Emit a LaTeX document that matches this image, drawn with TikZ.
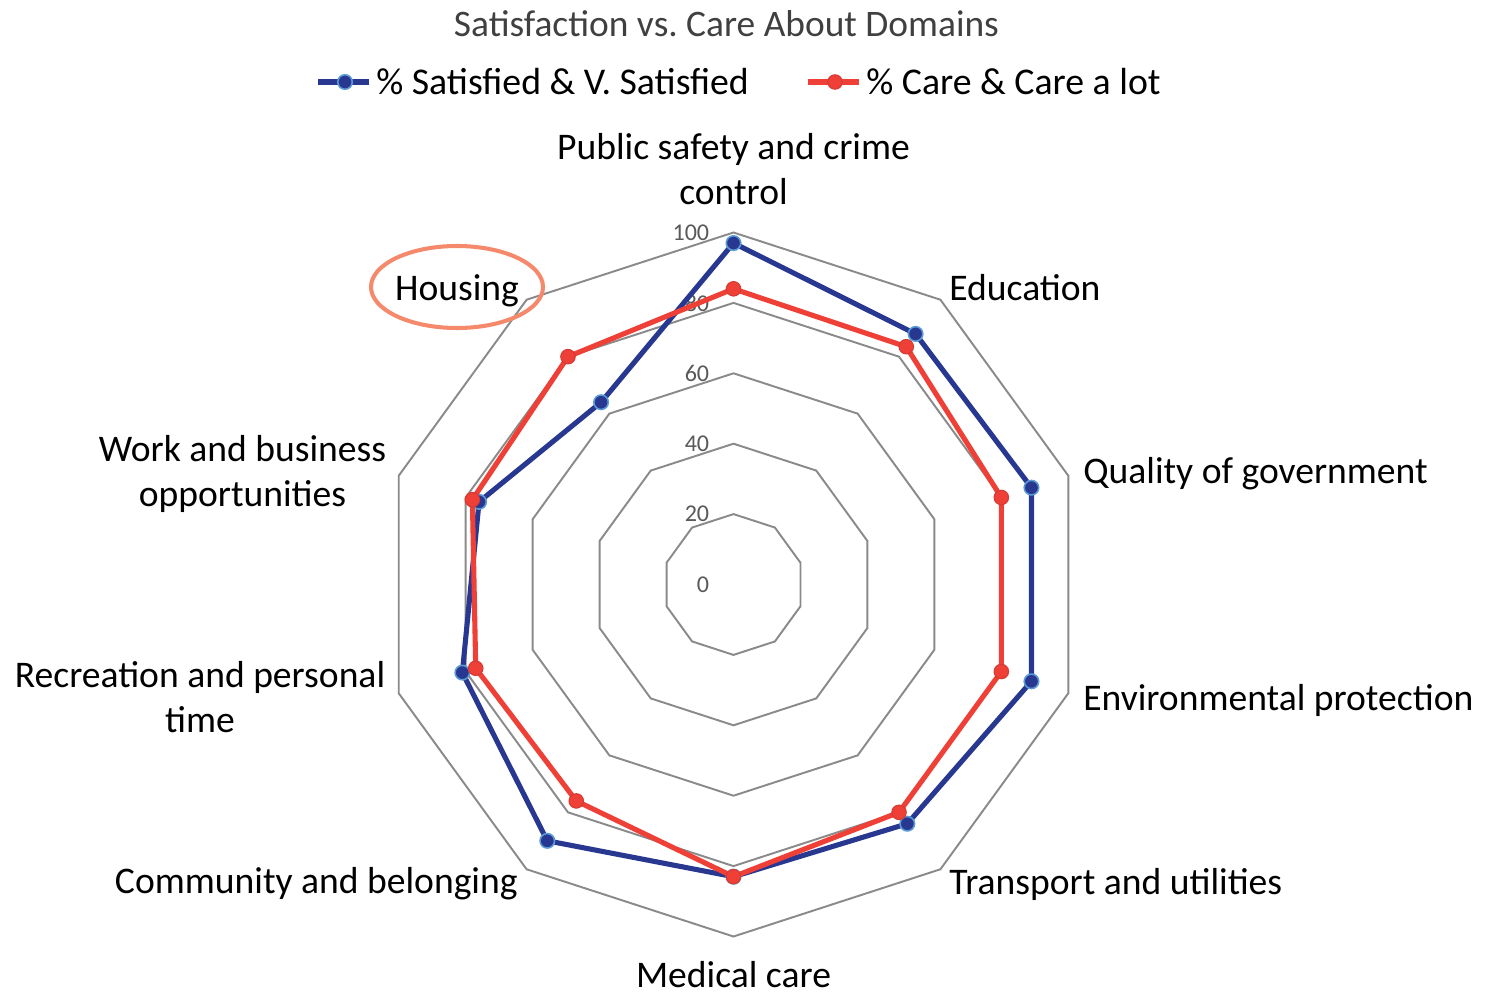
\documentclass[tikz,border=0pt]{standalone}
\usepackage{fontspec}
\setmainfont{Carlito}
\usetikzlibrary{positioning}

\definecolor{satblue}{HTML}{283891}
\definecolor{satrim}{HTML}{5B9BD5}
\definecolor{carered}{HTML}{EE4036}
\definecolor{carerim}{HTML}{D63A33}
\definecolor{ringgray}{HTML}{8A8A8A}
\definecolor{tickgray}{HTML}{595959}
\definecolor{titlegray}{HTML}{404040}
\definecolor{markorange}{HTML}{F4896B}

\tikzstyle{ring} = [draw=ringgray, line width=1.1pt, line join=miter]
\tikzstyle{satline} = [draw=satblue, line width=2.9pt, line join=round]
\tikzstyle{careline} = [draw=carered, line width=2.9pt, line join=round]
\tikzstyle{satdot} = [circle, fill=satblue, draw=satrim, line width=0.9pt, inner sep=0pt, minimum size=0.29cm]
\tikzstyle{caredot} = [circle, fill=carered, draw=carerim, line width=0.6pt, inner sep=0pt, minimum size=0.29cm]
\tikzstyle{axislabel} = [font=\fontsize{21.4}{25.6}\selectfont, text=black, align=center, inner sep=0pt]
\tikzstyle{keytext} = [font=\fontsize{21.5}{25.6}\selectfont, text=black, inner sep=0pt, anchor=west]
\tikzstyle{ticklabel} = [font=\fontsize{13.7}{15}\selectfont, text=tickgray, inner sep=0pt, anchor=east]

\begin{document}
\begin{tikzpicture}[x=0.02cm, y=0.02cm]
    \useasboundingbox (0,0) rectangle (1490,995);
    %\draw[step=100,gray,very thin] (0,0) grid (1490,995);
    \node (title) at (726.5,971) [font=\fontsize{21.3}{25}\selectfont, text=titlegray, inner sep=0pt] {Satisfaction vs.\ Care About Domains};

    % legend
    \coordinate (satkeyL) at (318,913);
    \node (satkeytext) at (376,913) [keytext] {\% Satisfied \& V. Satisfied};
    \draw [satline] (satkeyL) -- ([xshift=-4]satkeytext.west);
    \node (satkey) at (345,913) [satdot] {};
    \coordinate (carekeyL) at (808,913);
    \node (carekeytext) at (866,913) [keytext] {\% Care \& Care a lot};
    \draw [careline] (carekeyL) -- ([xshift=-4]carekeytext.west);
    \node (carekey) at (835,913) [caredot] {};

    \begin{scope}[shift={(733.5,410.5)}]
        \foreach \r in {20,40,...,100}
            \draw [ring] (90:\r*3.52) -- (54:\r*3.52) -- (18:\r*3.52) -- (-18:\r*3.52) -- (-54:\r*3.52) -- (-90:\r*3.52) -- (-126:\r*3.52) -- (-162:\r*3.52) -- (162:\r*3.52) -- (126:\r*3.52) -- cycle;
        \foreach \r in {0,20,...,100}
            \node (tick\r) at (-24,\r*3.52) [ticklabel] {\r};

        \foreach \val [count=\i] in {97,88,89,89,84,83,90,81,76,64}
            \coordinate (s\i) at ({90-36*(\i-1)}:{\val*3.52});
        \foreach \val [count=\i] in {84,83.5,80,80,80,83,76,77,78,80}
            \coordinate (c\i) at ({90-36*(\i-1)}:{\val*3.52});

        \draw [satline] (s1) \foreach \i in {2,...,10} {-- (s\i)} -- cycle;
        \foreach \i in {1,...,10}
            \node (sd\i) at (s\i) [satdot] {};
        \draw [careline] (c1) \foreach \i in {2,...,10} {-- (c\i)} -- cycle;
        \foreach \i in {1,...,10}
            \node (cd\i) at (c\i) [caredot] {};
    \end{scope}

    \node (safety) at (733.5,825.5) [axislabel] {Public safety and crime\\control};
    \node (education) at (949,707) [axislabel, anchor=west] {Education};
    \node (government) at (1083,521) [axislabel, anchor=west] {Quality of government};
    \node (environment) at (1083,295) [axislabel, anchor=west] {Environmental protection};
    \node (transport) at (949,111) [axislabel, anchor=west] {Transport and utilities};
    \node (medical) at (733.5,20) [axislabel] {Medical care};
    \node (community) at (518,111) [axislabel, anchor=east] {Community and belonging};
    \node (recreation) at (200,298) [axislabel] {Recreation and personal\\time};
    \node (work) at (242.5,521.5) [axislabel] {Work and business\\opportunities};
    \node (housing) at (457,704) [axislabel] {Housing};

    \draw [markorange, line width=2.3pt] (457,708) ellipse [x radius=86, y radius=41];
\end{tikzpicture}
\end{document}
